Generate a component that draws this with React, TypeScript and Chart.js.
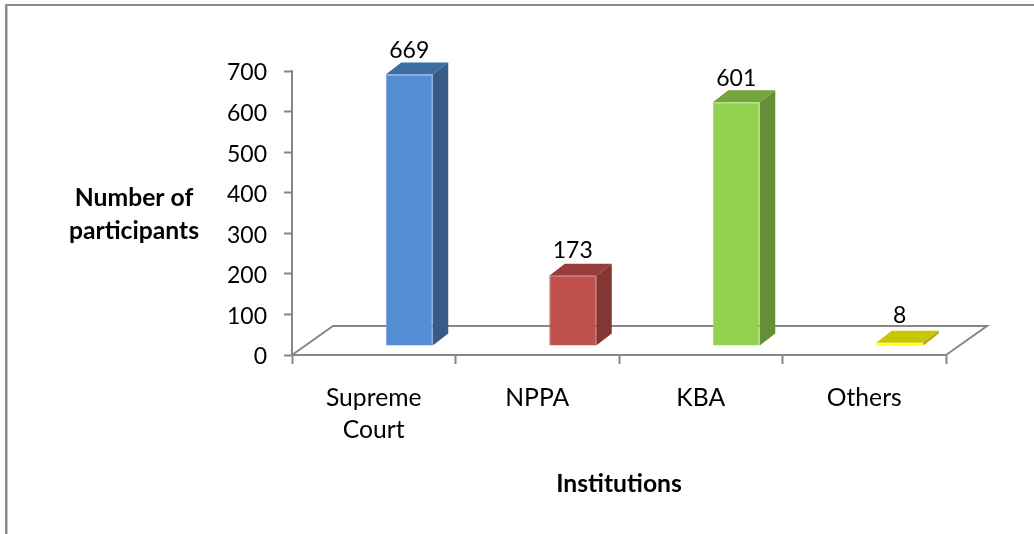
import React, { useEffect, useRef } from "react";
import { Chart, registerables } from "chart.js";

Chart.register(...registerables);

const categories: (string | string[])[] = [["Supreme", "Court"], "NPPA", "KBA", "Others"];
const participants = [669, 173, 601, 8];
const yMax = 700;
const yStep = 100;
const yTitleLines = ["Number of", "participants"];
const xTitle = "Institutions";

const frontColors = ["#548dd4", "#c0504d", "#92d050", "#ffff00"];
const edgeColors = ["#6a9cdb", "#c86360", "#a0d666", "#ffff22"];
const topColors = ["#3f6ca3", "#963c3a", "#74a53f", "#c8c800"];
const sideColors = ["#375a87", "#853533", "#658e38", "#a8a800"];
const labelLift = [24, 25, 24, 27];

const W = 1034;
const H = 534;
const FONT = "Lato, Carlito, sans-serif";
const AXIS = "#868686";
const PLOT = { left: 292, top: 71, right: 946, bottom: 355 };
const FLOOR = { dx: 41, dy: 29 };
const BAR_SHIFT = { x: 35.5, y: -9 };
const DEPTH = { x: 15.5, y: 12 };

const scene3d = {
  id: "scene3d",
  beforeDraw(chart: any) {
    const c = chart.ctx;
    c.save();
    c.fillStyle = "#8c8c8c";
    c.fillRect(5, 4, W - 5, 2);
    c.fillRect(5, 4, 2.5, H - 4);
    c.restore();
  },
  beforeDatasetsDraw(chart: any) {
    const { left, right, bottom } = chart.chartArea;
    const c = chart.ctx;
    c.save();
    c.strokeStyle = AXIS;
    c.lineWidth = 2;
    c.beginPath();
    c.moveTo(left, bottom);
    c.lineTo(left + FLOOR.dx, bottom - FLOOR.dy);
    c.lineTo(right + FLOOR.dx, bottom - FLOOR.dy);
    c.lineTo(right, bottom);
    c.stroke();
    c.restore();
  },
  beforeDatasetDraw(chart: any, args: any) {
    const c = chart.ctx;
    const meta = chart.getDatasetMeta(args.index);
    meta.data.forEach((bar: any, i: number) => {
      const l = bar.x - bar.width / 2 + BAR_SHIFT.x;
      const r = bar.x + bar.width / 2 + BAR_SHIFT.x;
      const t = bar.y + BAR_SHIFT.y;
      const b = bar.base + BAR_SHIFT.y;
      c.fillStyle = topColors[i];
      c.beginPath();
      c.moveTo(l, t);
      c.lineTo(l + DEPTH.x, t - DEPTH.y);
      c.lineTo(r + DEPTH.x, t - DEPTH.y);
      c.lineTo(r, t);
      c.closePath();
      c.fill();
      c.fillStyle = sideColors[i];
      c.beginPath();
      c.moveTo(r, t);
      c.lineTo(r + DEPTH.x, t - DEPTH.y);
      c.lineTo(r + DEPTH.x, b - DEPTH.y);
      c.lineTo(r, b);
      c.closePath();
      c.fill();
    });
    c.save();
    c.translate(BAR_SHIFT.x, BAR_SHIFT.y);
  },
  afterDatasetDraw(chart: any) {
    chart.ctx.restore();
  },
  afterDatasetsDraw(chart: any) {
    const c = chart.ctx;
    const meta = chart.getDatasetMeta(0);
    c.save();
    c.fillStyle = "#000";
    c.textAlign = "center";
    c.textBaseline = "middle";
    c.font = `23px ${FONT}`;
    meta.data.forEach((bar: any, i: number) => {
      c.fillText(String(participants[i]), bar.x + BAR_SHIFT.x, bar.y + BAR_SHIFT.y - labelLift[i]);
    });
    c.font = `bold 24.7px ${FONT}`;
    yTitleLines.forEach((line, i) => c.fillText(line, 134, 198 + i * 33));
    c.fillText(xTitle, 619, 484);
    c.restore();
  },
};

export default function App() {
  const ref = useRef<HTMLCanvasElement>(null);
  useEffect(() => {
    const chart = new Chart(ref.current!, {
      type: "bar",
      data: {
        labels: categories as any,
        datasets: [
          {
            data: participants,
            backgroundColor: frontColors,
            borderColor: edgeColors,
            borderWidth: 1,
            barPercentage: 47 / 163.5,
            categoryPercentage: 1,
            clip: false as any,
          },
        ],
      },
      options: {
        animation: false,
        responsive: false,
        layout: {
          padding: { left: 0, top: PLOT.top, right: W - PLOT.right, bottom: 0 },
        },
        plugins: { legend: { display: false }, title: { display: false }, tooltip: { enabled: false } },
        scales: {
          x: {
            afterFit(s: any) {
              s.height = H - PLOT.bottom;
            },
            grid: { drawOnChartArea: false, offset: true, tickLength: 9, tickColor: AXIS, tickWidth: 2 },
            border: { color: AXIS, width: 2 },
            ticks: {
              color: "#000",
              font: { family: FONT, size: 24.7, lineHeight: 32 / 24.7 },
              padding: 18,
              maxRotation: 0,
              autoSkip: false,
            },
          },
          y: {
            min: 0,
            max: yMax,
            afterFit(s: any) {
              s.width = PLOT.left;
            },
            grid: { drawOnChartArea: false, tickLength: 8, tickColor: AXIS, tickWidth: 2 },
            border: { color: AXIS, width: 2 },
            ticks: {
              stepSize: yStep,
              color: "#000",
              font: { family: FONT, size: 23, lineHeight: 4 / 23 },
              padding: 17,
              callback: (v: any) => ["", String(v)],
            },
          },
        },
      },
      plugins: [scene3d],
    });
    return () => chart.destroy();
  }, []);
  return (
    <div style={{ position: "absolute", left: 0, top: 0, width: W, height: H }}>
      <canvas ref={ref} width={W} height={H} style={{ display: "block" }} />
    </div>
  );
}
